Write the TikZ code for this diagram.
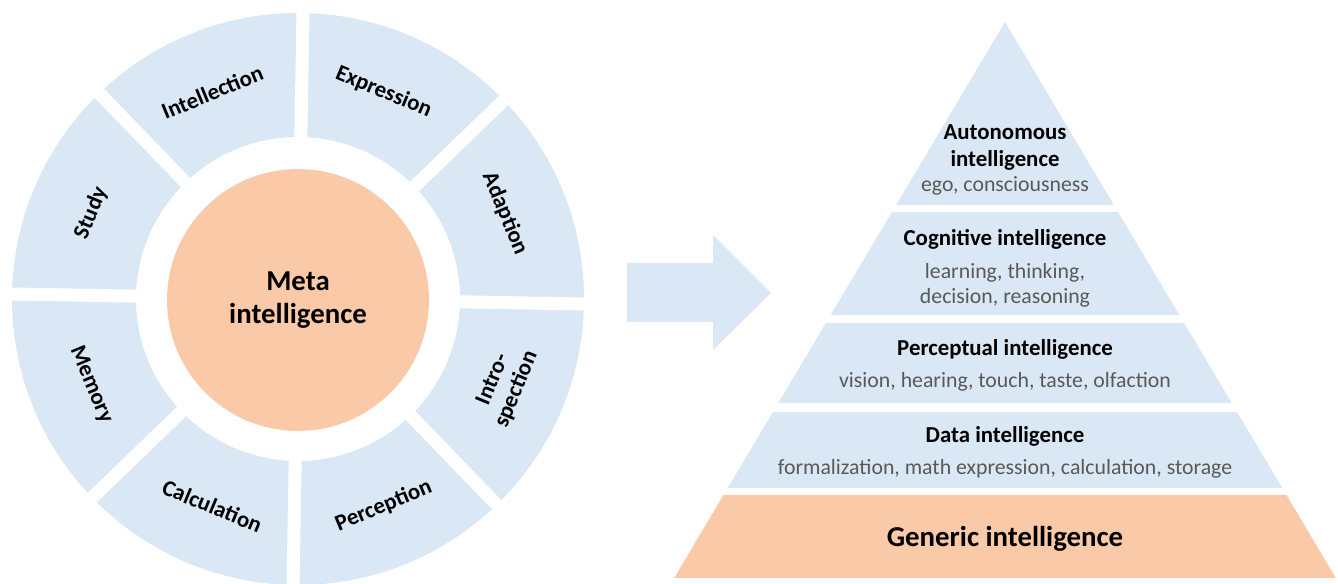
\documentclass[tikz,border=0pt]{standalone}
\usepackage{fontspec}
\setmainfont{Carlito}
\usetikzlibrary{calc}
\definecolor{paleblue}{RGB}{218,232,245}
\definecolor{peach}{RGB}{250,201,167}
\definecolor{subgray}{RGB}{89,89,89}

\begin{document}
\begin{tikzpicture}[x=0.02cm, y=0.02cm,
        seg/.style={font=\fontsize{13}{14.5}\selectfont\bfseries, align=center, inner sep=0pt},
        head/.style={font=\fontsize{13}{15}\selectfont\bfseries, anchor=base, inner sep=0pt},
        sub/.style={font=\fontsize{12.4}{14}\selectfont, text=subgray, anchor=base, inner sep=0pt},
        big/.style={font=\fontsize{16.4}{19}\selectfont\bfseries}]
            \useasboundingbox (0,0) rectangle (1338,584);

            % ring of abilities
            \coordinate (C) at (298,285);
            \fill [paleblue, even odd rule] (C) circle (286) (C) circle (162);
            \foreach \a in {0,45,90,135}
                {
                    \draw [white, line width=0.26cm] ($(C) + (\a-1:300)$) -- ($(C) + (\a+179:300)$);
                }
            \node (M) at ($(C) + (0,-1)$) [circle, fill=peach, minimum size=5.24cm, align=center, big] {Meta\\intelligence};

            \foreach \a/\r/\txt [count=\i] in {112.5/22.5/Intellection, 67.5/-22.5/Expression,
                    22.5/-67.5/Adaption, -22.5/67.5/{Intro-\\spection}, -67.5/22.5/Perception,
                    -112.5/-22.5/Calculation, -157.5/-67.5/Memory, 157.5/67.5/Study}
                {
                    \node (S\i) at ($(C) + (\a:224)$) [seg, rotate=\r] {\txt};
                }

            % arrow
            \fill [paleblue] (627,321) -- (713,321) -- (713,349) -- (771,291) -- (713,234) -- (713,262) -- (627,262) -- cycle;

            % pyramid
            \foreach \t/\b/\c in {22/205/paleblue, 212/315/paleblue, 323/403/paleblue, 412/488/paleblue, 495/578/peach}
                {
                    \fill [\c] ({1005-0.595*(\t-22)},{584-\t}) -- ({1005+0.595*(\t-22)},{584-\t})
                        -- ({1005+0.595*(\b-22)},{584-\b}) -- ({1005-0.595*(\b-22)},{584-\b}) -- cycle;
                }

            \node (A1) at (1005,444) [head] {Autonomous};
            \node (A2) at ($(A1.base) + (0,-27)$) [head] {intelligence};
            \node (A3) at ($(A2.base) + (0,-25)$) [sub] {ego, consciousness};

            \node (B1) at (1005,338) [head] {Cognitive intelligence};
            \node (B2) at ($(B1.base) + (0,-33)$) [sub] {learning, thinking,};
            \node (B3) at ($(B2.base) + (0,-25)$) [sub] {decision, reasoning};

            \node (P1) at (1005,228) [head] {Perceptual intelligence};
            \node (P2) at ($(P1.base) + (0,-32)$) [sub] {vision, hearing, touch, taste, olfaction};

            \node (D1) at (1005,141) [head] {Data intelligence};
            \node (D2) at ($(D1.base) + (0,-32)$) [sub] {formalization, math expression, calculation, storage};

            \node (G) at (1005,37) [big, anchor=base] {Generic intelligence};

        \end{tikzpicture}
\end{document}
